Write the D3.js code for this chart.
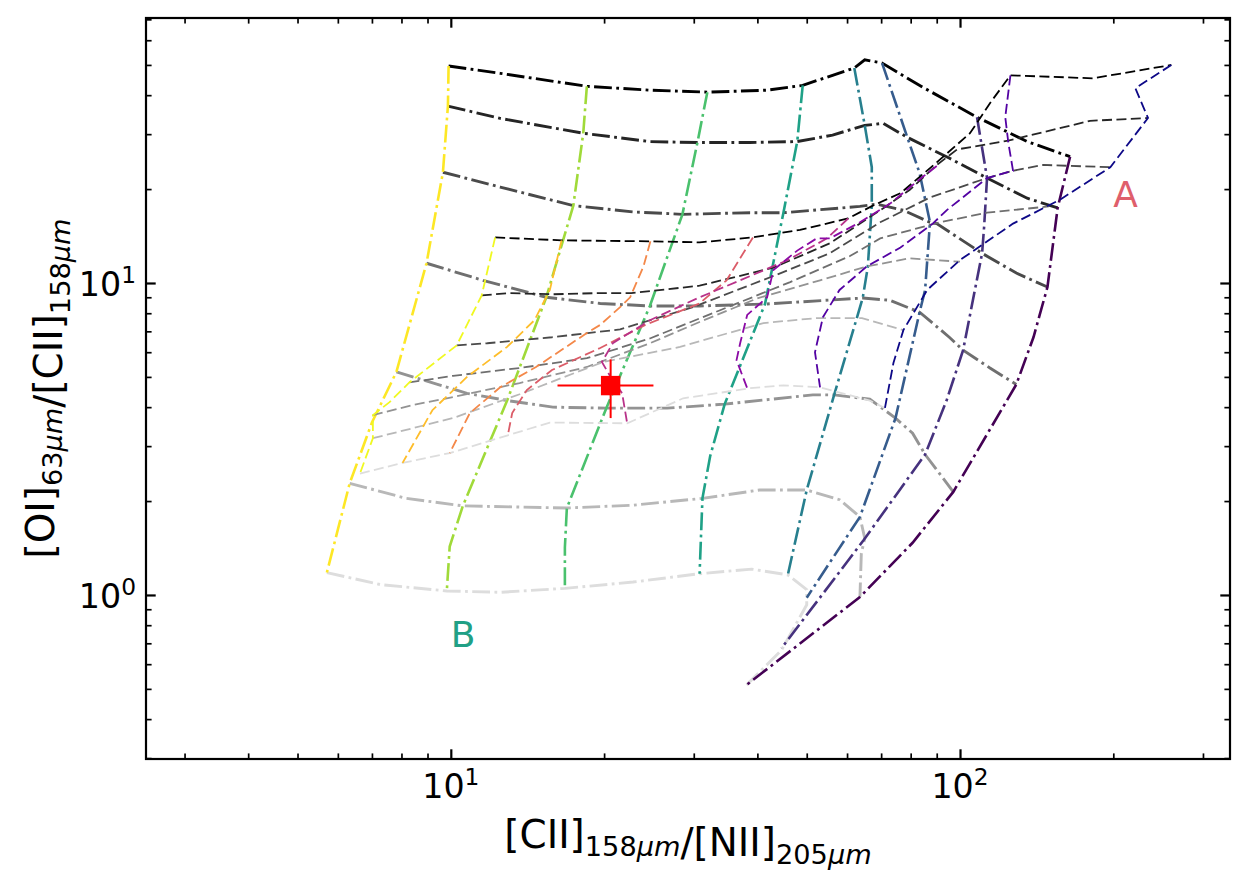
<!DOCTYPE html>
<html>
<head>
<meta charset="utf-8">
<script src="https://cdn.jsdelivr.net/npm/d3@7"></script>
<style>
  body { margin: 0; background: #fff; }
  text { font-family: "DejaVu Sans", sans-serif; }
</style>
</head>
<body>
<div id="chart"></div>
<script>
// grid A (dash-dot): rows, black -> light grey, each [x, y]
var gridA_rows = [
  [[9.9,49.6],[12.5,47],[18.5,42.7],[24.6,41.5],[31.9,40.9],[41.8,41.5],[49.1,43],[62,48.9],[65,51.9],[70.3,50.7],[84.5,42.4],[108,34],[135.5,28.4],[164.5,25.4]],
  [[9.87,36.9],[12.5,33.7],[18.2,30.2],[24.6,28.4],[30.5,28.2],[38.7,28.2],[47.9,28.4],[56.2,29.8],[65,32],[70.7,32.5],[78.8,29.3],[95.4,25.1],[113,21.7],[135.5,18.7],[155.5,17.4]],
  [[9.65,22.65],[12.5,20.3],[17.4,17.7],[22.8,16.9],[28.5,16.6],[38.7,16.8],[45,16.8],[63.6,17.6],[68.6,17.9],[77.4,17.1],[87.3,15.65],[90,15.5],[110.5,12.45],[129,10.76],[148.5,9.71]],
  [[8.96,11.57],[11.56,10.2],[15.4,9.0],[19.65,8.6],[24.6,8.44],[30.8,8.44],[41.4,8.56],[64.4,8.95],[72.9,8.8],[83.3,8.06],[95.4,6.69],[101.4,6.09],[114.5,5.34],[129,4.73]],
  [[7.82,5.19],[10.76,4.43],[12.9,4.2],[15.86,4.0],[20.2,3.97],[26.6,3.97],[34.5,4.09],[51.4,4.38],[56.6,4.38],[66.5,4.24],[74.7,3.69],[80.7,3.3],[85.4,2.82],[97,2.14]],
  [[6.33,2.28],[8.18,2.04],[10.56,1.93],[16.9,1.9],[22.8,1.94],[31.2,2.04],[40.4,2.17],[50,2.17],[58,2.02],[63.6,1.78],[65,1.52],[64,1.36],[63.6,0.985]],
  [[5.71,1.18],[7.26,1.08],[9.82,1.03],[12.5,1.02],[16.75,1.05],[22.8,1.1],[30.8,1.17],[39,1.21],[45.9,1.16],[50,1.04],[50,0.93],[44.6,0.665],[38.1,0.515]]
];

// grid A (dash-dot): columns, yellow -> dark purple
var gridA_cols = [
  [[9.9,49.6],[9.87,36.9],[9.65,22.65],[8.96,11.57],[7.82,5.19],[7.0,3.57],[6.33,2.28],[5.71,1.18]],
  [[18.5,42.7],[18.2,30.2],[17.4,17.7],[15.4,9.0],[12.9,4.2],[10.56,1.93],[9.95,1.43],[9.82,1.03]],
  [[31.9,40.9],[30.5,28.2],[28.5,16.6],[24.6,8.44],[20.2,3.97],[16.9,1.9],[16.75,1.42],[16.75,1.05]],
  [[49.1,43],[47.9,28.4],[45,16.8],[41.4,8.56],[34.5,4.09],[32.3,2.78],[31.2,2.04],[30.8,1.17]],
  [[62,48.9],[65,32],[67.1,23.5],[67.1,17.7],[65.9,11.25],[64.4,8.95],[56.6,4.38],[50,2.17],[45.9,1.16]],
  [[70.3,50.7],[78.8,29.3],[83.3,22.5],[87.3,15.65],[85.4,9.5],[83.3,8.06],[74.7,3.69],[63.6,1.78],[50,0.98]],
  [[108,34],[113,21.7],[111.5,15.1],[110.5,12.45],[101.4,6.09],[94.1,4.2],[85.4,2.82],[64.7,1.5],[44.6,0.675]],
  [[164.5,25.4],[155.5,17.4],[148.5,9.71],[139.4,6.7],[129,4.73],[97,2.14],[80.7,1.47],[63.6,0.985],[38.1,0.515]]
];

// grid B (dashed): rows, black -> light grey
var gridB_rows = [
  [[12.22,14],[16.5,13.7],[24.66,13.6],[30.8,13.5],[39.2,14],[48.5,14.8],[60.3,16.1],[67.4,17.7],[76.4,19.4],[90,24.35],[104.6,30.2],[114.5,37.7],[125.6,46.3],[182.5,45.3],[260,50]],
  [[11.5,9.13],[13.05,9.28],[15.8,9.2],[19.35,9.28],[22.6,9.28],[30.8,9.8],[43,11.2],[55.5,13.4],[69.7,17.1],[79.6,19.85],[90,23.9],[98.7,26.8],[124.4,28.6],[180,33.1],[234,33.8]],
  [[10.27,6.31],[11.79,6.41],[15.8,6.7],[21.5,7.1],[29.9,8.37],[43,10.53],[55.5,12.45],[69.7,15.65],[87.3,18.8],[113,21.7],[127.1,22.9],[145.7,23.9],[197.3,23.5]],
  [[8.29,4.8],[10.1,5.04],[13.65,5.34],[18.5,5.74],[24.6,6.64],[33.8,8.18],[46.4,10.07],[60.8,12.2],[69.7,13.9],[91.2,15.65],[113,16.8],[149.4,17.6]],
  [[7.03,3.77],[8.4,4.06],[10.1,4.31],[13.65,4.78],[18.5,5.38],[24.6,6.41],[30.8,7.5],[40,8.93],[53.1,10.2],[65.6,11.3],[79.6,12],[100,11.7]],
  [[7.03,3.18],[10.1,3.69],[13.65,4.4],[19.9,5.58],[28.2,6.24],[41.1,7.44],[52.3,7.72],[64.2,7.72],[77.4,7.06]],
  [[6.63,2.45],[8.04,2.65],[9.95,2.85],[12.94,3.25],[15.65,3.57],[22.2,3.55],[28.6,4.27],[38.7,4.6],[45,4.7],[53.1,4.63],[66.5,4.2],[71.2,3.97]]
];

// grid B (dashed): columns, yellow -> dark blue
var gridB_cols = [
  [[12.22,14],[11.5,9.13],[10.27,6.31],[8.29,4.8],[7.58,4.15],[7.03,3.77],[7.03,3.18],[6.63,2.45]],
  [[16.5,13.7],[15.65,9.5],[14.6,7.6],[12.9,6.24],[10.76,5],[9.2,3.91],[8.04,2.65]],
  [[24.66,13.6],[23.9,11.3],[22.5,9.0],[21.5,8.37],[19.65,7.34],[18.5,6.91],[14.7,5.38],[12.5,4.63],[10.9,3.83],[9.95,2.85]],
  [[39.2,14],[34.8,10.2],[30.8,8.6],[24.1,7.34],[19.65,6.19],[15.8,5.26],[14.1,4.54],[13.2,3.83],[12.94,3.25]],
  [[60.3,16.1],[54.8,13.9],[45.9,11.85],[37,10.2],[30.8,9.0],[24.6,7.6],[20.8,6.41],[19.8,5.58],[20.6,5],[21.7,4.43],[22.2,3.55]],
  [[90,23.7],[84.5,21.9],[73,18],[63.6,15.65],[55.5,13.9],[52.3,13.9],[47.9,12.7],[43,11],[41.8,9.0],[38.2,7.9],[37,6.41],[36.4,5.66],[38.2,4.6]],
  [[125.6,46.3],[122.7,34],[124.4,28.2],[127.1,22.9],[113,21.7],[94.1,17.1],[88.4,15.5],[76.4,13],[65.6,11.3],[58,9.5],[53.8,7.77],[51.9,6],[53.1,4.63]],
  [[260,50],[221,42.1],[234,33.8],[197.3,23.5],[157.2,18.5],[127.1,15.5],[100,11.85],[86.2,9.5],[77.4,7.06],[74,5.54],[71.2,3.97]]
];

// observed point with errors
var obsX = [20.6], obsY = [4.69], obsXerr = [4.4], obsYerr = [1.0];

// annotations
var noteText = ["A", "B"];
var notePos = [[200, 17.5], [10, 0.68]];

// ticks
var xMajor = [10, 100], xMajorExp = ["1", "2"];
var yMajor = [1, 10], yMajorExp = ["0", "1"];
var xMinor = [3,4,5,6,7,8,9,20,30,40,50,60,70,80,90,200,300];
var yMinor = [0.3,0.4,0.5,0.6,0.7,0.8,0.9,2,3,4,5,6,7,8,9,20,30,40,50,60,70];

// 1: dimensions
var margin = {top: 18, right: 20, bottom: 122, left: 146};
var width = 1250 - margin.left - margin.right,
    height = 881 - margin.top - margin.bottom;

var svgRoot = d3.select("#chart").append("svg")
    .attr("width", 1250)
    .attr("height", 881);
var svg = svgRoot.append("g")
    .attr("transform", "translate(" + margin.left + "," + margin.top + ")");

// 2: scales
var x = d3.scaleLog().domain([2.52, 339]).range([0, width]);
var y = d3.scaleLog().domain([0.298, 70.7]).range([height, 0]);

svg.append("clipPath").attr("id", "plotclip")
  .append("rect").attr("width", width).attr("height", height);

var line = d3.line()
    .x(function(d) { return x(d[0]); })
    .y(function(d) { return y(d[1]); });

var grey = d3.interpolateRgb("#000000", "#dddddd");
var plot = svg.append("g").attr("clip-path", "url(#plotclip)");

// 3: grid A, dash-dot
plot.selectAll("path.arow").data(gridA_rows).enter().append("path")
    .attr("class", "arow")
    .attr("d", line)
    .attr("fill", "none")
    .attr("stroke", function(d, i) { return grey(i / (gridA_rows.length - 1)); })
    .attr("stroke-width", 2.9)
    .attr("stroke-dasharray", "17.8,4.4,2.8,4.4");

plot.selectAll("path.acol").data(gridA_cols).enter().append("path")
    .attr("class", "acol")
    .attr("d", line)
    .attr("fill", "none")
    .attr("stroke", function(d, i) { return d3.interpolateViridis(1 - i / (gridA_cols.length - 1)); })
    .attr("stroke-width", 2.6)
    .attr("stroke-dasharray", "17.8,4.4,2.8,4.4");

// 4: grid B, dashed
plot.selectAll("path.brow").data(gridB_rows).enter().append("path")
    .attr("class", "brow")
    .attr("d", line)
    .attr("fill", "none")
    .attr("stroke", function(d, i) { return grey(i / (gridB_rows.length - 1)); })
    .attr("stroke-width", 1.8)
    .attr("stroke-dasharray", "10,4.4");

plot.selectAll("path.bcol").data(gridB_cols).enter().append("path")
    .attr("class", "bcol")
    .attr("d", line)
    .attr("fill", "none")
    .attr("stroke", function(d, i) { return d3.interpolatePlasma(1 - i / (gridB_cols.length - 1)); })
    .attr("stroke-width", 1.8)
    .attr("stroke-dasharray", "10,4.4");

// 5: observed point
var obs = obsX.map(function(v, i) { return {x: v, y: obsY[i], xe: obsXerr[i], ye: obsYerr[i]}; });
var og = plot.selectAll("g.obs").data(obs).enter().append("g").attr("class", "obs");
og.append("line")
    .attr("x1", function(d) { return x(d.x - d.xe); })
    .attr("x2", function(d) { return x(d.x + d.xe); })
    .attr("y1", function(d) { return y(d.y); })
    .attr("y2", function(d) { return y(d.y); })
    .attr("stroke", "#ff0000").attr("stroke-width", 2);
og.append("line")
    .attr("x1", function(d) { return x(d.x); })
    .attr("x2", function(d) { return x(d.x); })
    .attr("y1", function(d) { return y(d.y - d.ye); })
    .attr("y2", function(d) { return y(d.y + d.ye); })
    .attr("stroke", "#ff0000").attr("stroke-width", 2);
og.append("rect")
    .attr("x", function(d) { return x(d.x) - 9.7; })
    .attr("y", function(d) { return y(d.y) - 9.7; })
    .attr("width", 19.4).attr("height", 19.4)
    .attr("fill", "#ff0000");

// 6: annotations
var noteColor = ["#df5f6c", "#21a085"];
svg.selectAll("text.note").data(noteText).enter().append("text")
    .attr("class", "note")
    .attr("x", function(d, i) { return x(notePos[i][0]); })
    .attr("y", function(d, i) { return y(notePos[i][1]); })
    .attr("font-size", 36)
    .attr("fill", function(d, i) { return noteColor[i]; })
    .text(function(d) { return d; });

// 7: axes, ticks pointing inward on all four sides
function styleAxis(g, w) {
  g.select(".domain").remove();
  g.selectAll(".tick line").attr("stroke", "#000").attr("stroke-width", w);
}
var axes = [
  {gen: d3.axisBottom, sc: x, tr: "translate(0," + height + ")"},
  {gen: d3.axisTop, sc: x, tr: null},
  {gen: d3.axisLeft, sc: y, tr: null},
  {gen: d3.axisRight, sc: y, tr: "translate(" + width + ",0)"}
];
axes.forEach(function(a) {
  var isX = a.sc === x;
  var gMaj = svg.append("g").attr("transform", a.tr)
      .call(a.gen(a.sc).tickValues(isX ? xMajor : yMajor).tickSize(-9.7).tickFormat(""));
  styleAxis(gMaj, 2.2);
  var gMin = svg.append("g").attr("transform", a.tr)
      .call(a.gen(a.sc).tickValues(isX ? xMinor : yMinor).tickSize(-5.6).tickFormat(""));
  styleAxis(gMin, 1.7);
});

svg.append("rect")
    .attr("width", width).attr("height", height)
    .attr("fill", "none").attr("stroke", "#000").attr("stroke-width", 2.2);

// 8: tick labels with superscripts
var xl = svg.selectAll("text.xtl").data(xMajor).enter().append("text")
    .attr("class", "xtl")
    .attr("x", function(d) { return x(d); })
    .attr("y", height + 39)
    .attr("text-anchor", "middle")
    .attr("font-size", 33.3);
xl.append("tspan").text("10");
xl.append("tspan").attr("font-size", 23.3).attr("dy", -13).text(function(d, i) { return xMajorExp[i]; });

var yl = svg.selectAll("text.ytl").data(yMajor).enter().append("text")
    .attr("class", "ytl")
    .attr("x", -10)
    .attr("y", function(d) { return y(d) + 13; })
    .attr("text-anchor", "end")
    .attr("font-size", 33.3);
yl.append("tspan").text("10");
yl.append("tspan").attr("font-size", 23.3).attr("dy", -13).text(function(d, i) { return yMajorExp[i]; });

// 9: axis labels
function label(el, parts) {
  parts.forEach(function(p) {
    if (p.sub) {
      el.append("tspan").attr("font-size", 27.2).attr("dy", 8).text(p.sub);
      el.append("tspan").attr("font-size", 27.2).attr("font-style", "italic").text("\u03bcm");
      el.append("tspan").attr("dy", -8).text("");
    } else {
      el.append("tspan").text(p.t);
    }
  });
}
var xlab = svg.append("text")
    .attr("x", width / 2).attr("y", height + 89)
    .attr("text-anchor", "middle").attr("font-size", 38.9);
label(xlab, [{t: "[CII]"}, {sub: "158"}, {t: "/[NII]"}, {sub: "205"}]);

var ylab = svg.append("text")
    .attr("transform", "translate(" + (54 - margin.left) + "," + (height / 2) + ") rotate(-90)")
    .attr("text-anchor", "middle").attr("font-size", 38.9);
label(ylab, [{t: "[OI]"}, {sub: "63"}, {t: "/[CII]"}, {sub: "158"}]);
</script>
</body>
</html>
